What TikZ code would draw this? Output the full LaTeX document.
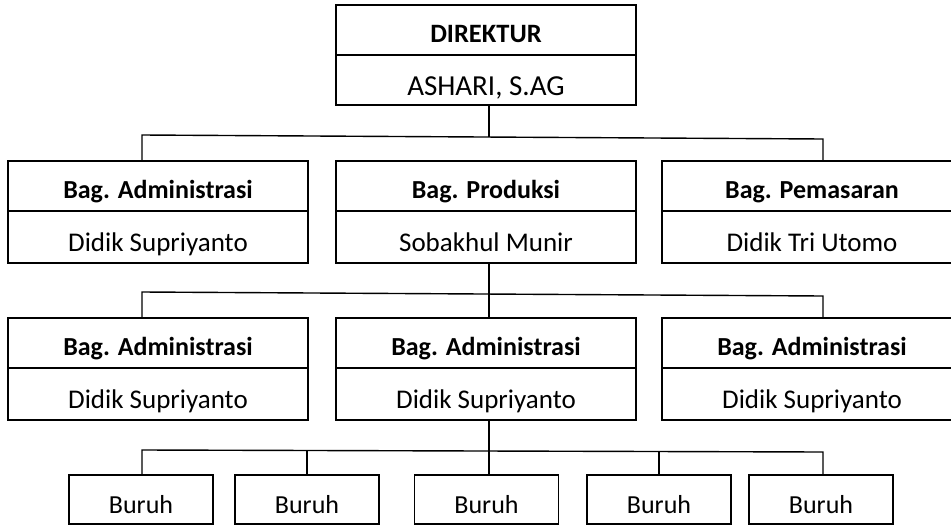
\documentclass[tikz,border=0pt]{standalone}
\usepackage{fontspec}
\setmainfont{Carlito}
\begin{document}
\begin{tikzpicture}[x=1pt,y=-1pt,
  cell/.style={draw, line width=1.4pt, minimum width=300pt, inner sep=0pt,
    font=\fontsize{27}{30}\selectfont, text height=28pt, text depth=0pt},
  headcell/.style={cell, minimum height=50pt, font=\fontsize{26}{30}\selectfont\bfseries, text height=25pt},
  namecell/.style={cell, minimum height=52pt},
  buruhbox/.style={cell, minimum width=144pt, minimum height=49pt, font=\fontsize{26}{30}\selectfont, text height=27pt},
  conn/.style={line width=1.4pt}]
\useasboundingbox (0,0) rectangle (951,525);
% top
\node[headcell, font=\fontsize{26.5}{30}\selectfont\bfseries, text height=24pt] (dirT) at (486,30) {DIREKTUR};
\node[cell, minimum height=50pt, font=\fontsize{29}{32}\selectfont, text height=30.5pt] (dirB) at (486,80) {ASHARI, S.AG};
% row 2
\node[headcell] (admT) at (158,186) {Bag. Administrasi};
\node[namecell] (admB) at (158,237) {Didik Supriyanto};
\node[headcell] (proT) at (486,186) {Bag. Produksi};
\node[namecell] (proB) at (486,237) {Sobakhul Munir};
\node[headcell] (pemT) at (812,186) {Bag. Pemasaran};
\node[namecell] (pemB) at (812,237) {Didik Tri Utomo};
% row 3
\node[headcell] (aT) at (158,343) {Bag. Administrasi};
\node[namecell] (aB) at (158,394) {Didik Supriyanto};
\node[headcell] (bT) at (486,343) {Bag. Administrasi};
\node[namecell] (bB) at (486,394) {Didik Supriyanto};
\node[headcell] (cT) at (812,343) {Bag. Administrasi};
\node[namecell] (cB) at (812,394) {Didik Supriyanto};
% row 4
\node[buruhbox] (w1) at (141,499.5) {Buruh};
\node[buruhbox] (w2) at (307,499.5) {Buruh};
\node[buruhbox] (w3) at (486.5,499.5) {Buruh};
\node[buruhbox] (w4) at (659,499.5) {Buruh};
\node[buruhbox] (w5) at (821,499.5) {Buruh};
% bus coordinates
\coordinate (j1) at (489,137);
\coordinate (j1l) at (142,135);
\coordinate (j1r) at (823,139);
\coordinate (j2) at (489,294);
\coordinate (j2l) at (142,292);
\coordinate (j2r) at (823,296);
\coordinate (j3) at (489,451);
\coordinate (j3l) at (142,450);
\coordinate (j3r) at (823,452);
% connectors level 1
\draw[conn] (dirB.south -| j1) -- (j1);
\draw[conn] (admT.north -| j1l) -- (j1l) -- (j1r) -- (pemT.north -| j1r);
% level 2
\draw[conn] (proB.south -| j2) -- (bT.north -| j2);
\draw[conn] (aT.north -| j2l) -- (j2l) -- (j2r) -- (cT.north -| j2r);
% level 3
\draw[conn] (bB.south -| j3) -- (w3.north -| j3);
\draw[conn] (w1.north -| j3l) -- (j3l) -- (j3r) -- (w5.north -| j3r);
\draw[conn] (w2.north) -- (w2.north |- j3);
\draw[conn] (w4.north) -- (w4.north |- j3);
\end{tikzpicture}
\end{document}
